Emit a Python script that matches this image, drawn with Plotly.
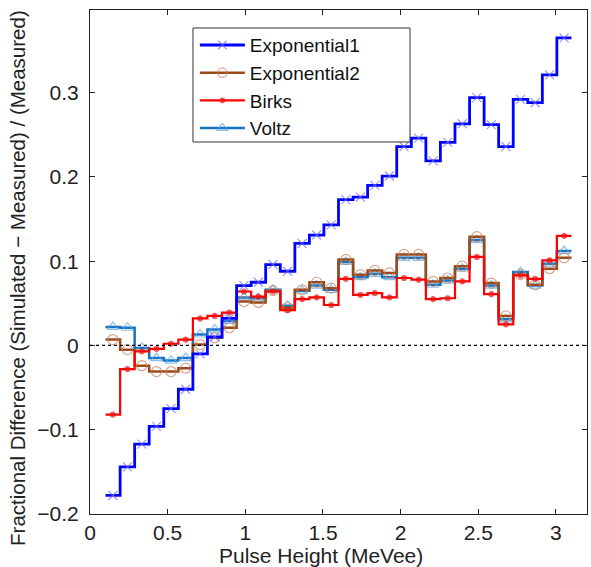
import plotly.graph_objects as go

# Bin centres (MeVee) and outer bin edges
bin_centers = [0.147, 0.241, 0.334, 0.428, 0.522, 0.616, 0.709, 0.803, 0.897, 0.991,
               1.084, 1.178, 1.272, 1.366, 1.459, 1.553, 1.647, 1.741, 1.834, 1.928,
               2.022, 2.116, 2.209, 2.303, 2.397, 2.491, 2.584, 2.678, 2.772, 2.866,
               2.959, 3.053]
first_edge = 0.1
last_edge = 3.1

exponential1 = [-0.178, -0.144, -0.117, -0.096, -0.075, -0.052, -0.010, 0.010, 0.032, 0.071,
                0.075, 0.096, 0.088, 0.121, 0.131, 0.143, 0.173, 0.176, 0.190, 0.201,
                0.236, 0.246, 0.219, 0.241, 0.263, 0.294, 0.262, 0.236, 0.292, 0.288,
                0.321, 0.365]
exponential2 = [0.007, -0.005, -0.024, -0.031, -0.031, -0.027, 0.001, 0.009, 0.021, 0.052,
                0.051, 0.065, 0.045, 0.066, 0.075, 0.068, 0.102, 0.084, 0.089, 0.086,
                0.108, 0.108, 0.076, 0.080, 0.094, 0.129, 0.074, 0.035, 0.084, 0.072,
                0.091, 0.104]
birks = [-0.082, -0.028, -0.007, -0.004, 0.002, 0.007, 0.032, 0.035, 0.039, 0.064,
         0.058, 0.064, 0.042, 0.055, 0.057, 0.048, 0.079, 0.060, 0.062, 0.057,
         0.080, 0.078, 0.055, 0.056, 0.076, 0.105, 0.061, 0.025, 0.083, 0.079,
         0.101, 0.130]
voltz = [0.022, 0.021, -0.003, -0.015, -0.018, -0.015, 0.013, 0.019, 0.029, 0.057,
         0.056, 0.066, 0.047, 0.065, 0.071, 0.066, 0.099, 0.081, 0.085, 0.081,
         0.104, 0.104, 0.072, 0.077, 0.091, 0.125, 0.071, 0.031, 0.087, 0.071,
         0.097, 0.112]

x_ticks = [0, 0.5, 1, 1.5, 2, 2.5, 3]
y_ticks = [-0.2, -0.1, 0, 0.1, 0.2, 0.3]
y_tick_text = ["\u22120.2", "\u22120.1", "0", "0.1", "0.2", "0.3"]
x_title = "Pulse Height (MeVee)"
y_title = "Fractional Difference (Simulated \u2212 Measured) / (Measured)"

series = [
    # name, values, line colour, marker symbol, marker colour, marker size, rank, width
    ("Voltz", voltz, "rgb(20,115,195)", "triangle-up-open", "rgb(90,165,230)", 10, 4, 2.5),
    ("Exponential2", exponential2, "rgb(155,75,25)", "circle-open", "rgb(200,125,90)", 10, 2, 2.5),
    ("Birks", birks, "rgb(255,0,0)", "circle", "rgb(235,20,20)", 5, 3, 2.2),
    ("Exponential1", exponential1, "rgb(0,0,255)", "x-thin-open", "rgb(110,110,255)", 9, 1, 2.8),
]

fig = go.Figure()
for name, vals, lc, sym, mc, ms, rank, lw in series:
    xs = [first_edge] + bin_centers + [last_edge]
    ys = [vals[0]] + vals + [vals[-1]]
    sizes = [0] + [ms] * len(vals) + [0]
    fig.add_trace(go.Scatter(
        x=xs, y=ys, mode="lines+markers", name=name, legendrank=rank,
        line=dict(color=lc, width=lw, shape="hvh"),
        marker=dict(symbol=sym, size=sizes, color=mc,
                    line=dict(color=mc, width=1.2)),
    ))

fig.add_hline(y=0, line=dict(color="black", width=1.2, dash="dot"))

# legend frame
fig.add_shape(type="rect", xref="paper", yref="paper",
              x0=0.2072, x1=0.6439, y0=0.7381, y1=0.9643,
              line=dict(color="#333", width=1), fillcolor="white", layer="above")

font = "Liberation Sans, Arial, Helvetica, sans-serif"
axis_common = dict(
    showline=True, linecolor="#222", linewidth=1, mirror="allticks",
    ticks="inside", ticklen=5, tickcolor="#222", showgrid=False, zeroline=False,
    tickfont=dict(size=21, color="#222", family=font), automargin=False,
)
fig.update_xaxes(range=[0, 3.2], tickvals=x_ticks, ticktext=[str(v) for v in x_ticks],
                 **axis_common)
fig.update_yaxes(range=[-0.2, 0.398], tickvals=y_ticks, ticktext=y_tick_text,
                 ticklabelstandoff=6, **axis_common)

fig.add_annotation(text=x_title, xref="paper", yref="paper", x=0.465, y=-0.0833,
                   xanchor="center", yanchor="middle", showarrow=False,
                   font=dict(size=21, color="#222", family=font))
fig.add_annotation(text=y_title, xref="paper", yref="paper", x=-0.1449, y=0.4683,
                   xanchor="center", yanchor="middle", showarrow=False, textangle=-90,
                   font=dict(size=20.5, color="#222", family=font))

fig.update_layout(
    width=591, height=567,
    margin=dict(l=90, r=4, t=10, b=53),
    paper_bgcolor="white", plot_bgcolor="white",
    font=dict(family=font, color="#222"),
    legend=dict(x=0.211, y=0.968, xanchor="left", yanchor="top",
                bgcolor="rgba(0,0,0,0)", borderwidth=0,
                font=dict(size=19, family=font, color="#111"),
                itemwidth=45, tracegroupgap=0),
    showlegend=True,
)

fig.write_html("out.html", config={"displayModeBar": False},
               post_script="document.body.style.margin='0px';")
